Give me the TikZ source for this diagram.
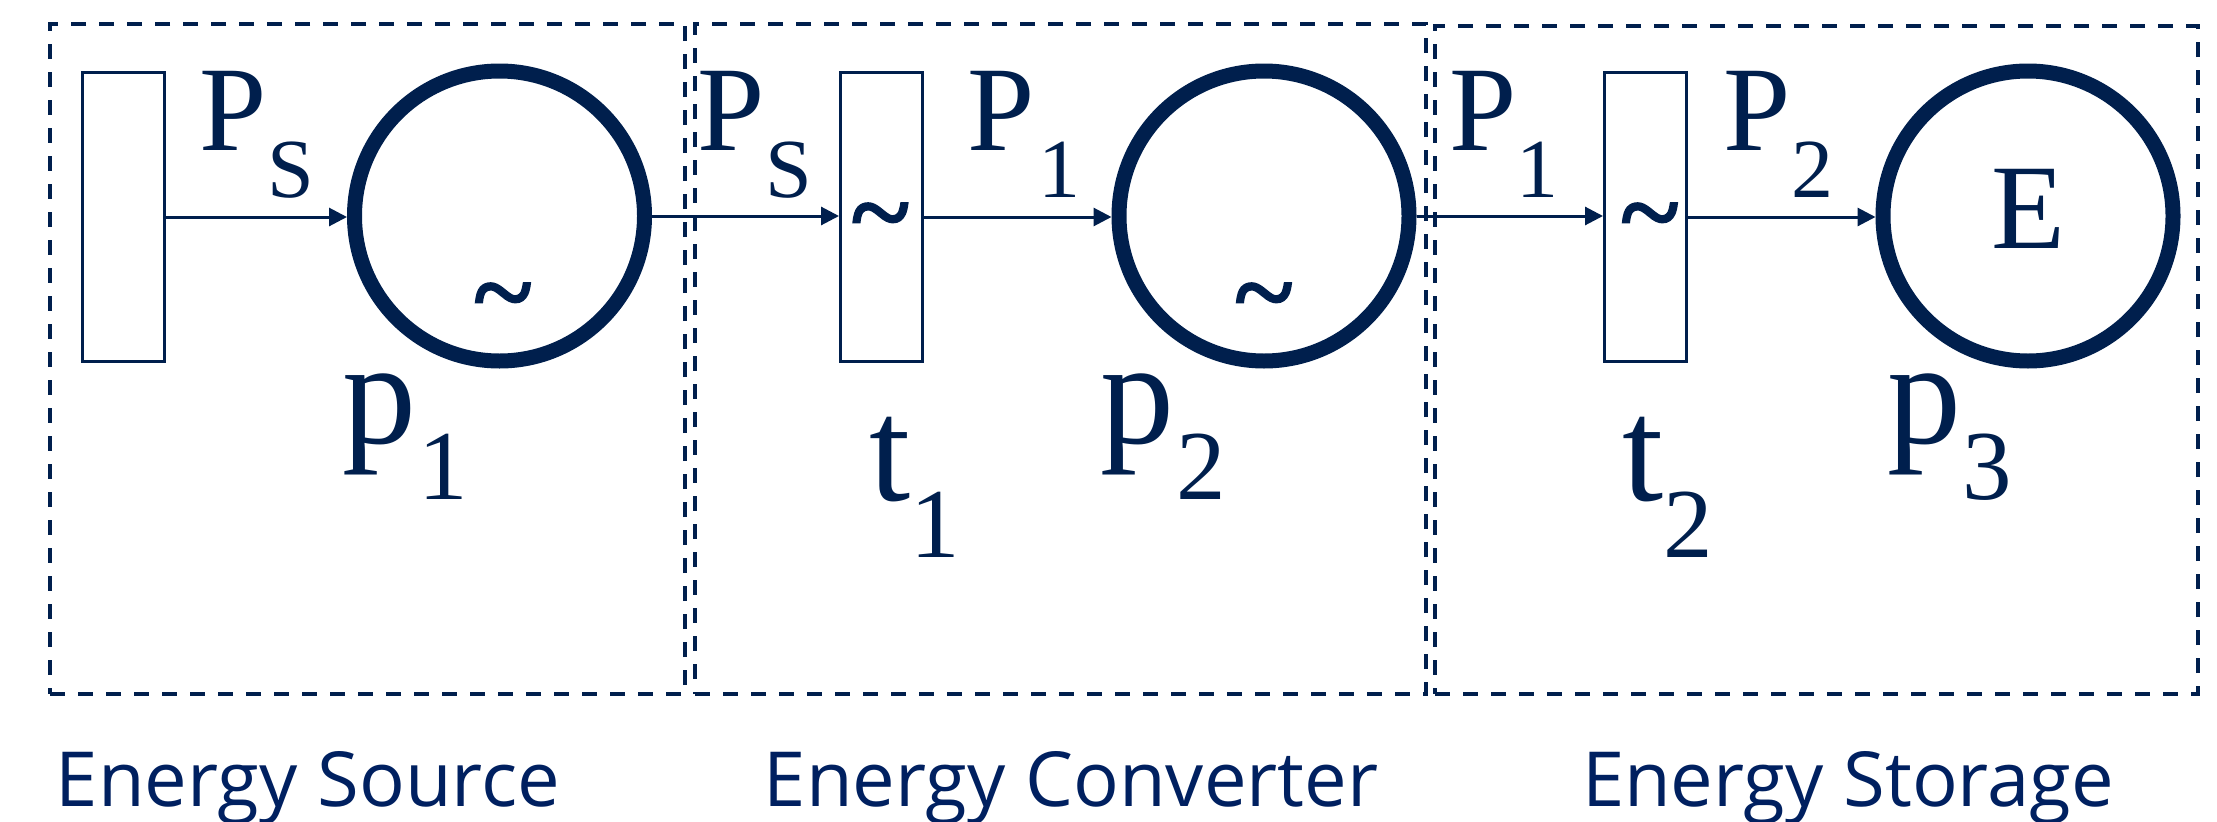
\documentclass[tikz,border=0pt]{standalone}
\usepackage{fontspec}
\newfontfamily\tnr{Liberation Serif}
\newfontfamily\tnrb[FakeBold=2.5]{Liberation Serif}
\newfontfamily\osans{Open Sans}
\usetikzlibrary{arrows.meta}
\definecolor{navy}{HTML}{001F4D}
\definecolor{txtblue}{HTML}{002060}
\begin{document}
\begin{tikzpicture}[x=1pt,y=-1pt,
  trans/.style={rectangle, draw=navy, line width=3pt, minimum width=82pt, minimum height=289pt, inner sep=0pt},
  place/.style={circle, draw=navy, line width=15pt, minimum size=290pt, inner sep=0pt},
  region/.style={rectangle, draw=navy, line width=3.5pt, dash pattern=on 15pt off 13pt, inner sep=0pt},
  arc/.style={draw=navy, line width=3pt, -{Triangle[length=18pt,width=18pt]}},
  big/.style={text=navy, inner sep=0pt, anchor=base, font=\tnr\fontsize{121}{121}\selectfont},
  sub/.style={text=navy, inner sep=0pt, anchor=base, font=\tnr\fontsize{84}{84}\selectfont},
  plab/.style={text=navy, inner sep=0pt, anchor=base, font=\tnr\fontsize{148}{148}\selectfont},
  psub/.style={text=navy, inner sep=0pt, anchor=base, font=\tnr\fontsize{99}{99}\selectfont},
  tld/.style={text=navy, inner sep=0pt, anchor=base, font=\tnrb\fontsize{110}{110}\selectfont},
  caption/.style={text=txtblue, inner sep=0pt, anchor=base, font=\osans\fontsize{76}{76}\selectfont}
]
\useasboundingbox (0,0) rectangle (2217,822);

% regions
\node[region, minimum width=635pt, minimum height=670pt] (box1) at (367.5,359) {};
\node[region, minimum width=731pt, minimum height=670pt] (box2) at (1060.5,359) {};
\node[region, minimum width=763pt, minimum height=668pt] (box3) at (1816.5,360) {};

% transitions and places
\node[trans] (src) at (123.5,217) {};
\node[place] (p1) at (499.5,216) {};
\node[trans] (t1) at (881.5,217) {};
\node[place] (p2) at (1264,216) {};
\node[trans] (t2) at (1645.5,217) {};
\node[place] (p3) at (2028,216) {};

% connectors
\draw[arc] (src.east) -- (src.east -| p1.west);
\draw[arc] (p1.east) -- (p1.east -| t1.west);
\draw[arc] (t1.east) -- (t1.east -| p2.west);
\draw[arc] (p2.east) -- (p2.east -| t2.west);
\draw[arc] (t2.east) -- (t2.east -| p3.west);

% tildes and E
\node[tld] (tl1) at (880.5,249) {\char"007E};
\node[tld] (tl2) at (1650,249) {\char"007E};
\node[tld] (tlp1) at (503,329) {\char"007E};
\node[tld] (tlp2) at (1264,329) {\char"007E};
\node[big] (E) at (2028.5,248) {E};

% arc labels
\node[big] (lPa) at (233.5,150) {P};
\node[sub] (lSa) at (291,197) {S};
\node[big] (lPb) at (731,150) {P};
\node[sub] (lSb) at (788.5,197) {S};
\node[big] (lPc) at (1001,150) {P};
\node[sub] (l1c) at (1059,197) {1};
\node[big] (lPd) at (1483,150) {P};
\node[sub] (l1d) at (1537.5,197) {1};
\node[big] (lPe) at (1757.5,150) {P};
\node[sub] (l2e) at (1812,197) {2};

% place / transition names
\node[plab] (np1) at (379,443) {p};
\node[psub] (np1s) at (443.5,499) {1};
\node[plab] (nt1) at (890,500) {t};
\node[psub] (nt1s) at (935.5,557) {1};
\node[plab] (np2) at (1137,443) {p};
\node[psub] (np2s) at (1201,499) {2};
\node[plab] (nt2) at (1643,500) {t};
\node[psub] (nt2s) at (1688,557) {2};
\node[plab] (np3) at (1924,443) {p};
\node[psub] (np3s) at (1987,499) {3};

% captions
\node[caption] (c1) at (308,806) {Energy Source};
\node[caption] (c2) at (1071,806) {Energy Converter};
\node[caption] (c3) at (1848,806) {Energy Storage};
\end{tikzpicture}
\end{document}
